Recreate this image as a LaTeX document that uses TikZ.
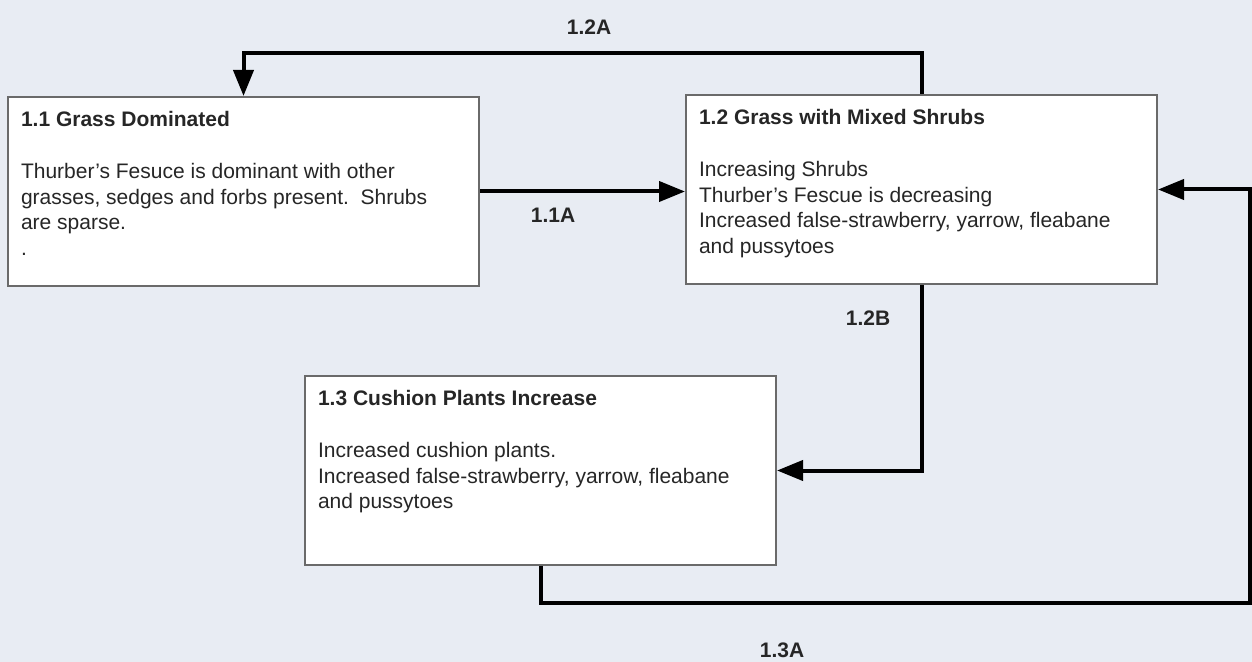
\documentclass[tikz,border=0pt]{standalone}
\usepackage{fontspec}
\setmainfont{Liberation Sans}
\usetikzlibrary{arrows.meta}

\definecolor{bgblue}{HTML}{E8ECF3}
\definecolor{boxgray}{HTML}{6A6A6A}
\definecolor{txtgray}{HTML}{262626}

\tikzset{
  statebox/.style={draw=boxgray, line width=1pt, fill=white, anchor=north west,
    inner xsep=6.5pt, inner ysep=7pt, text=txtgray,
    font=\fontsize{10.5}{12.75}\selectfont},
  flow/.style={line width=2pt, -{Triangle[length=13pt,width=10pt]}},
  lbl/.style={font=\fontsize{10.5}{12.75}\selectfont\bfseries, text=txtgray}
}

\newcommand{\statetext}[2]{\parbox[t][80.5pt][t]{222.5pt}{\raggedright\textbf{#1}\\[13.5pt]#2}}

\begin{document}
\begin{tikzpicture}[x=0.5pt, y=-0.5pt]
          \fill[bgblue] (0,0) rectangle (1252,662);
          \useasboundingbox (0,0) rectangle (1252,662);

          \node[statebox] (grass) at (7,96) {\statetext{1.1 Grass Dominated}{Thurber's Fesuce is dominant with other\\ grasses, sedges and forbs present.\ \ Shrubs\\ are sparse.\\ .}};
          \node[statebox] (mixed) at (685,94) {\statetext{1.2 Grass with Mixed Shrubs}{Increasing Shrubs\\ Thurber's Fescue is decreasing\\ Increased false-strawberry, yarrow, fleabane\\ and pussytoes}};
          \node[statebox] (cushion) at (304,375) {\statetext{1.3 Cushion Plants Increase}{Increased cushion plants.\\ Increased false-strawberry, yarrow, fleabane\\ and pussytoes}};

          \coordinate (top) at (0,53);
          \coordinate (loop) at (1250,603);

          \draw[flow] (grass.east) -- (grass.east -| mixed.west);
          \draw[flow] (mixed.north) -- (mixed.north |- top) -| (grass.north);
          \draw[flow] (mixed.south) |- (cushion.east);
          \draw[flow] (cushion.south) |- (loop) |- (mixed.east);

          \node[lbl] (l11a) at (553,215) {1.1A};
          \node[lbl] (l12a) at (589,27) {1.2A};
          \node[lbl] (l12b) at (868,318) {1.2B};
          \node[lbl] (l13a) at (782,650) {1.3A};
    \end{tikzpicture}
\end{document}
